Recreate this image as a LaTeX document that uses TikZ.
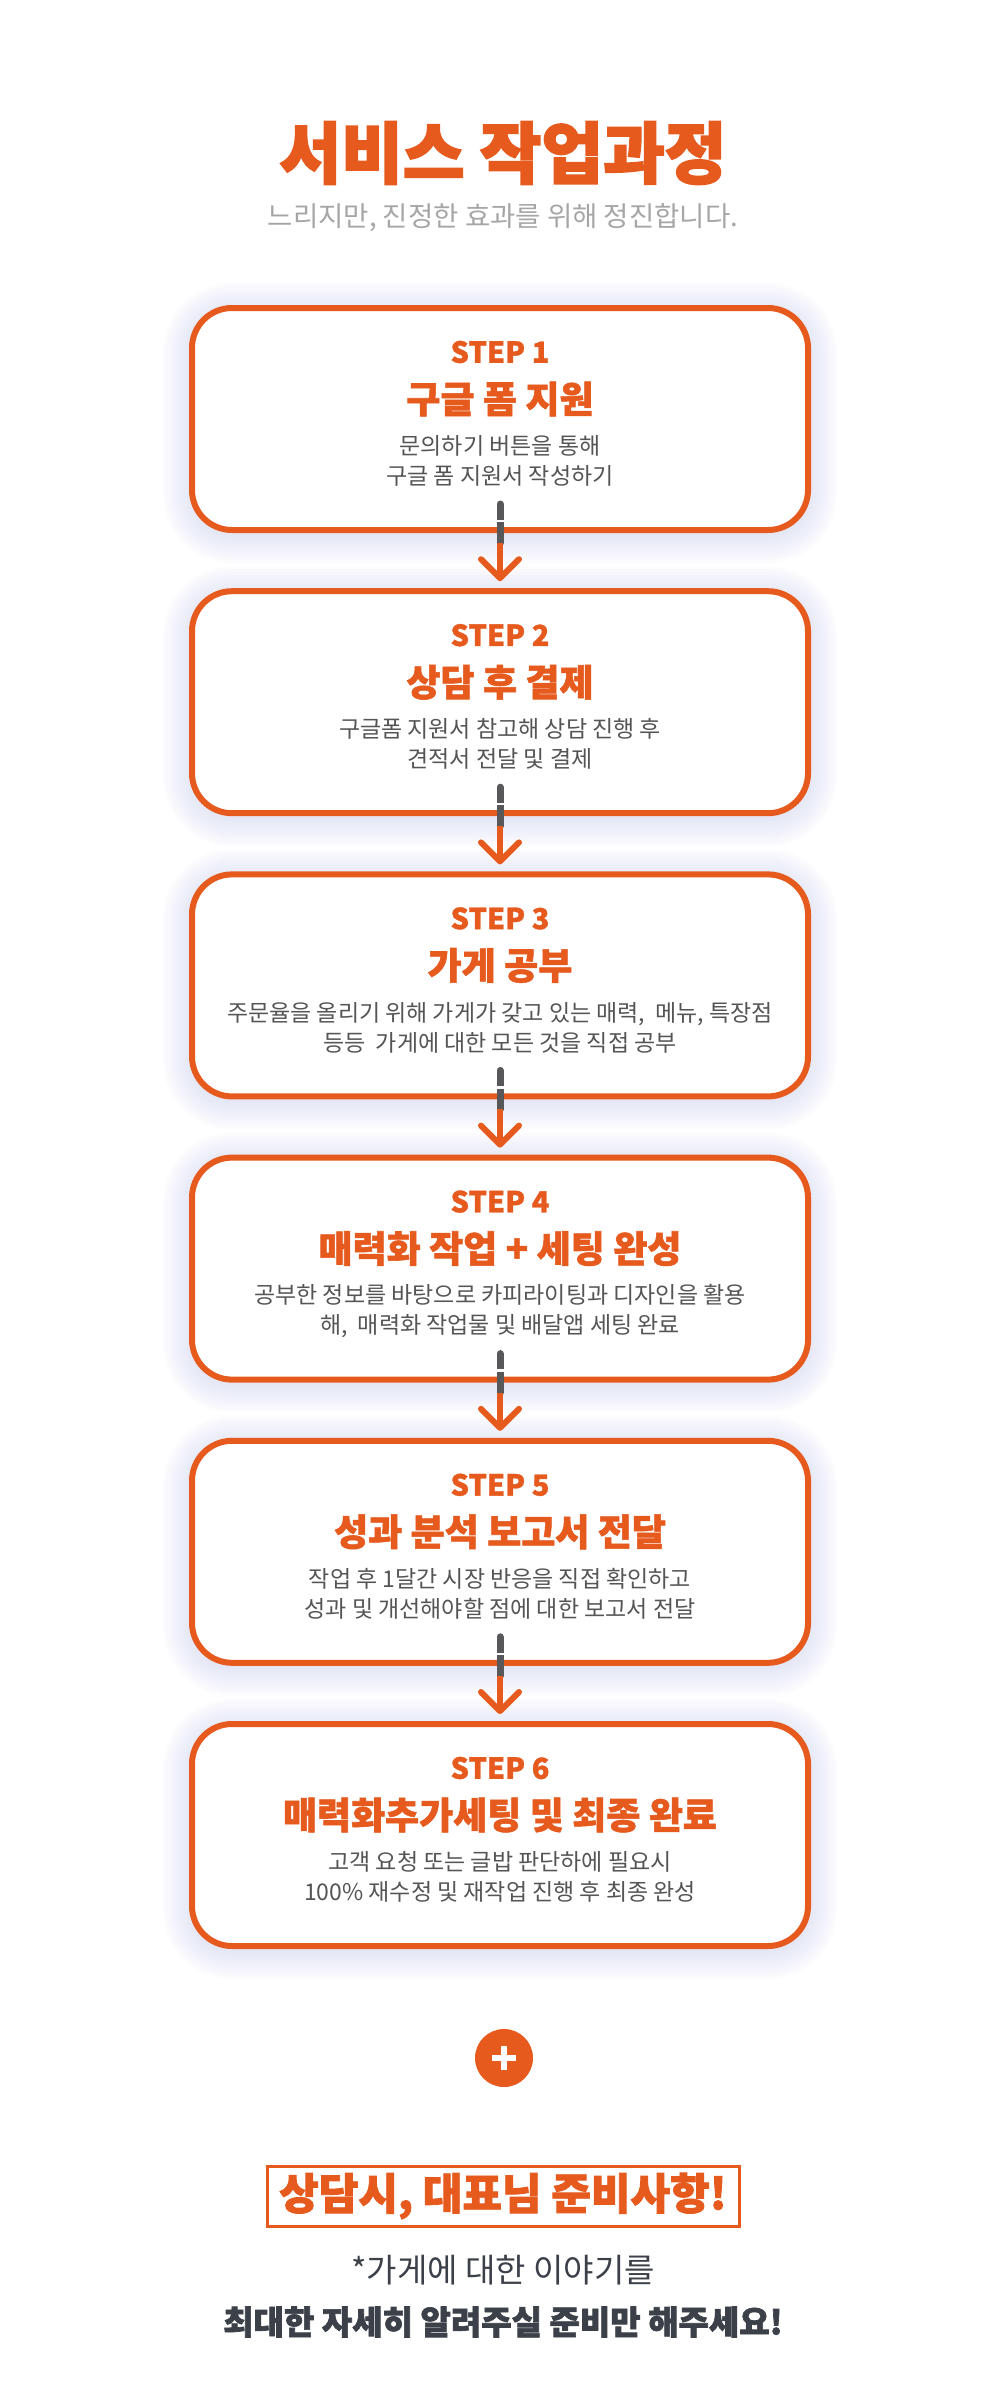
\documentclass[tikz,border=0pt]{standalone}
\usepackage{fontspec}
\setmainfont{Noto Sans CJK KR}
\usetikzlibrary{arrows.meta}
\definecolor{brand}{HTML}{E65A1E}
\definecolor{txtgray}{HTML}{555555}
\definecolor{subgray}{HTML}{A6A6A6}
\definecolor{darktxt}{HTML}{3B4049}
\definecolor{stemgray}{HTML}{58585A}
\definecolor{glowc}{HTML}{AEB5E0}
\newcommand\heavyfont[1]{\bfseries\addfontfeature{FakeBold=#1}}
\tikzset{
  stepbox/.style={draw=brand, line width=6pt, fill=white, rounded corners=40pt,
    minimum width=616pt, minimum height=222pt, inner sep=0pt},
  steplabel/.style={text=brand, font=\heavyfont{1}\fontsize{29}{29}\selectfont},
  steptitle/.style={text=brand, font=\heavyfont{1.5}\fontsize{37}{37}\selectfont},
  stepdesc/.style={text=txtgray, align=center, font=\fontsize{23}{30}\selectfont},
  graystem/.style={draw=stemgray, line width=7pt, line cap=round},
  flowarrow/.style={draw=brand, line width=6pt,
    -{Straight Barb[length=19pt, width=38pt, round]}},
}
\newcommand\mkstep[4]{%
  \pgfmathsetmacro\T{305+283.2*(#1-1)}%
  \foreach \e in {2,5,...,29}{%
    \pgfmathsetmacro\rr{40+\e}%
    \fill[glowc, opacity=0.032, rounded corners=\rr pt]
      (500-308-\e, \T+3+4-\e) rectangle (500+308+\e, \T+3+222+4+\e);
  }%
  \node[stepbox] (s#1) at (500, \T+114) {};
  \node[steplabel] (l#1) at (500, \T+47) {STEP #1};
  \node[steptitle] (t#1) at (500, \T+94) {#2};
  \node[stepdesc] (d#1) at (500, \T+156) {#3\\#4};
}
\begin{document}
\begin{tikzpicture}[x=1pt, y=-1pt]
  \fill[white] (0,0) rectangle (1006,2395);
  \useasboundingbox (0,0) rectangle (1006,2395);

  \node[text=brand, font=\heavyfont{2.5}\fontsize{67}{67}\selectfont] (title) at (503,153) {서비스 작업과정};
  \node[text=subgray, font=\fontsize{27.5}{27.5}\selectfont] (subtitle) at (503,218) {느리지만, 진정한 효과를 위해 정진합니다.};

  \mkstep{1}{구글 폼 지원}{문의하기 버튼을 통해}{구글 폼 지원서 작성하기}
  \mkstep{2}{상담 후 결제}{구글폼 지원서 참고해 상담 진행 후}{견적서 전달 및 결제}
  \mkstep{3}{가게 공부}{주문율을 올리기 위해 가게가 갖고 있는 매력,\ \ 메뉴, 특장점}{등등\ \ 가게에 대한 모든 것을 직접 공부}
  \mkstep{4}{매력화 작업 + 세팅 완성}{공부한 정보를 바탕으로 카피라이팅과 디자인을 활용}{해,\ \ 매력화 작업물 및 배달앱 세팅 완료}
  \mkstep{5}{성과 분석 보고서 전달}{작업 후 1달간 시장 반응을 직접 확인하고}{성과 및 개선해야할 점에 대한 보고서 전달}
  \mkstep{6}{매력화추가세팅 및 최종 완료}{고객 요청 또는 글밥 판단하에 필요시}{100\% 재수정 및 재작업 진행 후 최종 완성}

  \foreach \a/\b in {1/2,2/3,3/4,4/5,5/6}{
    \draw[graystem] ([yshift=29pt]s\a.south) -- ([yshift=-10pt]s\a.south);
    \draw[white, line width=2.5pt] ([yshift=12pt, xshift=-6pt]s\a.south) -- ([yshift=12pt, xshift=6pt]s\a.south);
    \draw[flowarrow] ([yshift=-10pt]s\a.south) -- ([yshift=7pt]s\b.north);
  }

  \node[circle, fill=brand, minimum size=58pt, inner sep=0pt] (plus) at (504,2058) {};
  \draw[white, line width=6pt] ([xshift=-12pt]plus.center) -- ([xshift=12pt]plus.center);
  \draw[white, line width=6pt] ([yshift=-12pt]plus.center) -- ([yshift=12pt]plus.center);

  \node[draw=brand, line width=3pt, minimum width=472pt, minimum height=60pt,
    text=brand, font=\heavyfont{2}\fontsize{43}{43}\selectfont] (prep) at (503,2196) {상담시, 대표님 준비사항!};
  \node[text=darktxt, font=\fontsize{33}{33}\selectfont] (note1) at (503,2270) {*가게에 대한 이야기를};
  \node[text=darktxt, font=\heavyfont{2}\fontsize{33}{33}\selectfont] (note2) at (503,2322) {최대한 자세히 알려주실 준비만 해주세요!};
\end{tikzpicture}
\end{document}
